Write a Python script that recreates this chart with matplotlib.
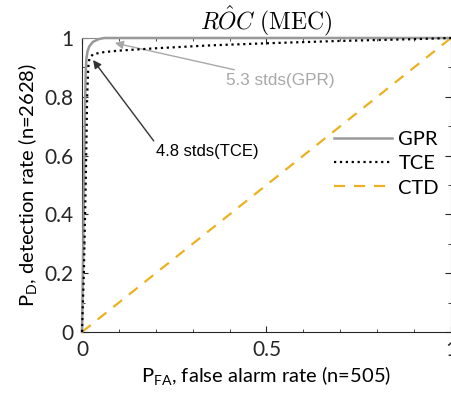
import matplotlib
matplotlib.use('Agg')
import matplotlib.pyplot as plt
from matplotlib.ticker import MultipleLocator, FuncFormatter

plt.rcParams['font.family'] = ['Lato', 'DejaVu Sans']
plt.rcParams['mathtext.fontset'] = 'custom'
plt.rcParams['mathtext.rm'] = 'Lato'
plt.rcParams['mathtext.it'] = 'Lato'

# ROC curves
gpr_fpr = [0, 0.003, 0.006, 0.008, 0.010, 0.012, 0.015, 0.02, 0.03, 0.045, 0.06, 0.08, 0.1, 0.2, 0.5, 1.0]
gpr_tpr = [0, 0.25, 0.55, 0.75, 0.88, 0.93, 0.955, 0.972, 0.987, 0.996, 1.0, 1.0, 1.0, 1.0, 1.0, 1.0]
tce_fpr = [0, 0.005, 0.01, 0.014, 0.017, 0.02, 0.03, 0.06, 0.1, 0.2, 0.35, 0.5, 0.7, 0.9, 1.0]
tce_tpr = [0, 0.2, 0.5, 0.8, 0.9, 0.93, 0.945, 0.952, 0.957, 0.965, 0.975, 0.982, 0.99, 0.996, 1.0]
ctd_fpr = [0, 1]
ctd_tpr = [0, 1]

fig = plt.figure(figsize=(4.52, 3.94), dpi=100)
ax = fig.add_axes([0.1814, 0.1574, 0.8164, 0.7462])

ax.plot(gpr_fpr, gpr_tpr, color='#999999', lw=1.8, label='GPR', clip_on=False, zorder=3)
ax.plot(tce_fpr, tce_tpr, color='black', lw=1.6, ls=':', label='TCE', clip_on=False, zorder=4)
ax.plot(ctd_fpr, ctd_tpr, color='#EDB120', lw=1.6, ls=(0, (5, 4)), label='CTD', zorder=2)

ax.annotate('5.3 stds(GPR)', xy=(0.089, 0.983), xytext=(0.39, 0.857),
            color='#a8a8a8', fontsize=12.3, family=['Liberation Sans'], va='center',
            arrowprops=dict(arrowstyle='-|>', color='#a8a8a8', lw=1.0, shrinkA=0, shrinkB=0))
ax.annotate('4.8 stds(TCE)', xy=(0.03, 0.925), xytext=(0.2, 0.615),
            color='black', fontsize=12, family=['Liberation Sans'], va='center',
            arrowprops=dict(arrowstyle='-|>', color='#333333', lw=1.0, shrinkA=0, shrinkB=0,
                            relpos=(0.0, 1.0)))

ax.set_xlim(0, 1)
ax.set_ylim(0, 1)
ax.xaxis.set_major_locator(MultipleLocator(0.5))
ax.xaxis.set_minor_locator(MultipleLocator(0.1))
ax.yaxis.set_major_locator(MultipleLocator(0.2))
ax.yaxis.set_minor_locator(MultipleLocator(0.1))
ax.xaxis.set_major_formatter(FuncFormatter(lambda v, p: '%g' % v))
ax.yaxis.set_major_formatter(FuncFormatter(lambda v, p: '%g' % v))
ax.tick_params(which='both', direction='in', top=True, right=True, labelsize=15,
               colors='#262626', pad=6)
ax.tick_params(which='major', length=4)
ax.tick_params(which='minor', length=2)
for s in ['left', 'bottom']:
    ax.spines[s].set_color('#262626')
for s in ['top', 'right']:
    ax.spines[s].set_color('#8a8a8a')

ax.set_xlabel('P$_{FA}$, false alarm rate (n=505)', fontsize=14.5, labelpad=3)
ax.set_ylabel('P$_{D}$, detection rate (n=2628)', fontsize=14.5, labelpad=4)
ax.set_title(r'$R\hat{O}C\ \mathrm{(MEC)}$', fontsize=17, math_fontfamily='cm', pad=5)

leg = ax.legend(loc='center right', bbox_to_anchor=(0.995, 0.572), frameon=False, fontsize=14.5,
                handlelength=2.9, handletextpad=0.3, labelspacing=0.35, borderaxespad=0.1)

fig.savefig('out.png', dpi=100)
